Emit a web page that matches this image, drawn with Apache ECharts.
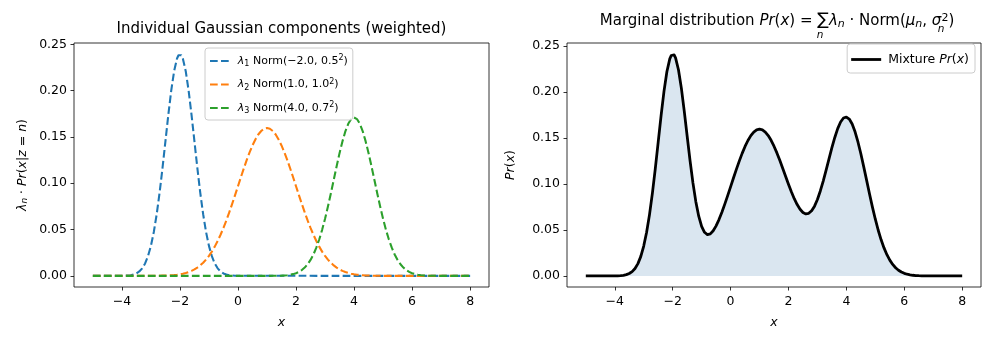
<!DOCTYPE html>
<html><head><meta charset="utf-8">
<script src="https://cdn.jsdelivr.net/npm/echarts@6/dist/echarts.min.js"></script>
<style>html,body{margin:0;padding:0;background:#fff}#c{width:989px;height:340px}</style>
</head><body><div id="c"></div>
<script>
// component 1: lambda1 * Norm(-2.0, 0.5^2)
const xs1 = [-5,-4,-3.9,-3.8,-3.7,-3.6,-3.5,-3.4,-3.3,-3.2,-3.1,-3,-2.9,-2.8,-2.7,-2.6,-2.5,-2.4,-2.3,-2.2,-2.1,-2.05,-2,-1.95,-1.9,-1.8,-1.7,-1.6,-1.5,-1.4,-1.3,-1.2,-1.1,-1,-0.9,-0.8,-0.7,-0.6,-0.5,-0.4,-0.3,-0.2,-0.1,0,8];
const comp1 = [0,0.00008,0.00017,0.00037,0.00074,0.00143,0.00266,0.00475,0.00815,0.0134,0.0213,0.0324,0.0474,0.0666,0.0899,0.1165,0.1452,0.1738,0.2000,0.2210,0.2347,0.2382,0.2394,0.2382,0.2347,0.2210,0.2000,0.1738,0.1452,0.1165,0.0899,0.0666,0.0474,0.0324,0.0213,0.0134,0.00815,0.00475,0.00266,0.00143,0.00074,0.00037,0.00017,0.00008,0];
// component 2: lambda2 * Norm(1.0, 1.0^2)
const xs2 = [-5,-3,-2.9,-2.8,-2.7,-2.6,-2.5,-2.4,-2.3,-2.2,-2.1,-2,-1.9,-1.8,-1.7,-1.6,-1.5,-1.4,-1.3,-1.2,-1.1,-1,-0.9,-0.8,-0.7,-0.6,-0.5,-0.4,-0.3,-0.2,-0.1,0,0.1,0.2,0.3,0.4,0.5,0.6,0.7,0.8,0.9,1,1.1,1.2,1.3,1.4,1.5,1.6,1.7,1.8,1.9,2,2.1,2.2,2.3,2.4,2.5,2.6,2.7,2.8,2.9,3,3.1,3.2,3.3,3.4,3.5,3.6,3.7,3.8,3.9,4,4.1,4.2,4.3,4.4,4.5,4.6,4.7,4.8,4.9,5,8];
const comp2 = [0,0.00005,0.00008,0.00012,0.00017,0.00024,0.00035,0.00049,0.00069,0.00095,0.00131,0.00177,0.00238,0.00316,0.00417,0.00543,0.00701,0.00896,0.0113,0.0142,0.0176,0.0216,0.0262,0.0316,0.0376,0.0444,0.0518,0.0599,0.0686,0.0777,0.0872,0.0968,0.1065,0.1159,0.1249,0.1333,0.1408,0.1473,0.1526,0.1564,0.1588,0.1596,0.1588,0.1564,0.1526,0.1473,0.1408,0.1333,0.1249,0.1159,0.1065,0.0968,0.0872,0.0777,0.0686,0.0599,0.0518,0.0444,0.0376,0.0316,0.0262,0.0216,0.0176,0.0142,0.0113,0.00896,0.00701,0.00543,0.00417,0.00316,0.00238,0.00177,0.00131,0.00095,0.00069,0.00049,0.00035,0.00024,0.00017,0.00012,0.00008,0.00005,0];
// component 3: lambda3 * Norm(4.0, 0.7^2)
const xs3 = [-5,1,1.1,1.2,1.3,1.4,1.5,1.6,1.7,1.8,1.9,2,2.1,2.2,2.3,2.4,2.5,2.6,2.7,2.8,2.9,3,3.1,3.2,3.3,3.4,3.5,3.6,3.7,3.8,3.9,4,4.1,4.2,4.3,4.4,4.5,4.6,4.7,4.8,4.9,5,5.1,5.2,5.3,5.4,5.5,5.6,5.7,5.8,5.9,6,6.1,6.2,6.3,6.4,6.5,6.6,6.7,6.8,6.9,7,8];
const comp3 = [0,0.00002,0.00003,0.00006,0.00010,0.00017,0.00029,0.00048,0.00077,0.00122,0.00190,0.00289,0.00430,0.00627,0.00896,0.01255,0.0172,0.0231,0.0305,0.0393,0.0497,0.0616,0.0748,0.0890,0.1037,0.1184,0.1325,0.1452,0.1560,0.1642,0.1693,0.1710,0.1693,0.1642,0.1560,0.1452,0.1325,0.1184,0.1037,0.0890,0.0748,0.0616,0.0497,0.0393,0.0305,0.0231,0.0172,0.01255,0.00896,0.00627,0.00430,0.00289,0.00190,0.00122,0.00077,0.00048,0.00029,0.00017,0.00010,0.00006,0.00003,0.00002,0];
// mixture Pr(x)
const xsMix = [-5,-4,-3.9,-3.8,-3.7,-3.6,-3.5,-3.4,-3.3,-3.2,-3.1,-3,-2.9,-2.8,-2.7,-2.6,-2.5,-2.4,-2.3,-2.2,-2.1,-2.05,-2,-1.95,-1.9,-1.8,-1.7,-1.6,-1.5,-1.4,-1.3,-1.2,-1.1,-1,-0.9,-0.8,-0.7,-0.6,-0.5,-0.4,-0.3,-0.2,-0.1,0,0.1,0.2,0.3,0.4,0.5,0.6,0.7,0.8,0.9,1,1.1,1.2,1.3,1.4,1.5,1.6,1.7,1.8,1.9,2,2.1,2.2,2.3,2.4,2.5,2.6,2.7,2.8,2.9,3,3.1,3.2,3.3,3.4,3.5,3.6,3.7,3.8,3.9,4,4.1,4.2,4.3,4.4,4.5,4.6,4.7,4.8,4.9,5,5.1,5.2,5.3,5.4,5.5,5.6,5.7,5.8,5.9,6,6.1,6.2,6.3,6.4,6.5,6.6,6.7,6.8,6.9,7,8];
const mixture = [0,0.00008,0.00017,0.00037,0.00074,0.00143,0.00266,0.00475,0.00815,0.0134,0.0213,0.0325,0.0475,0.0667,0.0901,0.1167,0.1456,0.1743,0.2007,0.2220,0.2360,0.2397,0.2412,0.2403,0.2371,0.2242,0.2042,0.1792,0.1522,0.1255,0.1012,0.0808,0.0650,0.0540,0.0475,0.0450,0.0458,0.0492,0.0545,0.0613,0.0693,0.0781,0.0874,0.0969,0.1065,0.1159,0.1249,0.1333,0.1408,0.1473,0.1526,0.1564,0.1588,0.1596,0.1588,0.1565,0.1527,0.1475,0.1411,0.1338,0.1257,0.1171,0.1084,0.0997,0.0915,0.0840,0.0776,0.0725,0.0690,0.0675,0.0681,0.0709,0.0759,0.0832,0.0924,0.1032,0.1150,0.1274,0.1395,0.1506,0.1602,0.1674,0.1717,0.1728,0.1706,0.1652,0.1567,0.1457,0.1329,0.1186,0.1039,0.0891,0.0749,0.0617,0.0497,0.0393,0.0305,0.0231,0.0172,0.01255,0.00896,0.00627,0.00430,0.00289,0.00190,0.00122,0.00077,0.00048,0.00029,0.00017,0.00010,0.00006,0.00003,0.00002,0];

const xTicks = [-4,-2,0,2,4,6,8];
const yTicks = [0,0.05,0.1,0.15,0.2,0.25];
const compNames = ['c1','c2','c3'];
const compLabels = ['{i|λ}{s|1} Norm(−2.0, 0.5{p|2})','{i|λ}{s|2} Norm(1.0, 1.0{p|2})','{i|λ}{s|3} Norm(4.0, 0.7{p|2})'];
const compColors = ['#1f77b4','#ff7f0e','#2ca02c'];
const mixLabel = 'Mixture {i|Pr}({i|x})';

const FONT = 'DejaVu Sans';
const pairs = (xv, yv) => xv.map((x,i)=>[x, yv[i]]);
const richBase = (fs) => ({
  i:{fontFamily:FONT,fontStyle:'italic',fontSize:fs,color:'#000'},
  s:{fontFamily:FONT,fontStyle:'normal',fontSize:Math.round(fs*0.7),verticalAlign:'bottom',color:'#000'},
  si:{fontFamily:FONT,fontStyle:'italic',fontSize:Math.round(fs*0.7),verticalAlign:'bottom',color:'#000'},
  p:{fontFamily:FONT,fontSize:Math.round(fs*0.7),verticalAlign:'top',color:'#000'},
  sum:{fontFamily:FONT,fontSize:fs*1.15,color:'#000'}
});

function xAxisCfg(gi){
  return {type:'value',gridIndex:gi,min:-5.65,max:8.65,
    name:'{i|x}',nameLocation:'middle',nameGap:29,
    nameTextStyle:{fontFamily:FONT,fontSize:12.5,color:'#000',rich:richBase(12.5)},
    axisLine:{show:false,onZero:false},splitLine:{show:false},
    axisTick:{show:true,length:3.5,lineStyle:{color:'#000',width:0.8},customValues:xTicks},
    axisLabel:{customValues:xTicks,margin:8,fontFamily:FONT,fontSize:12.5,color:'#000',
      formatter:v=>String(v).replace('-','\u2212')}};
}
function yAxisCfg(gi,max,name,gap){
  return {type:'value',gridIndex:gi,min:-0.012,max:max,
    name:name,nameLocation:'middle',nameGap:gap,nameRotate:90,
    nameTextStyle:{fontFamily:FONT,fontSize:12.5,color:'#000',rich:richBase(12.5)},
    axisLine:{show:false,onZero:false},splitLine:{show:false},
    axisTick:{show:true,length:3.5,lineStyle:{color:'#000',width:0.8},customValues:yTicks},
    axisLabel:{customValues:yTicks,margin:7,fontFamily:FONT,fontSize:12.5,color:'#000',
      formatter:v=>v.toFixed(2)}};
}

const compX = [xs1,xs2,xs3], compY = [comp1,comp2,comp3];
const series = compNames.map((n,k)=>({
  name:n,type:'line',xAxisIndex:0,yAxisIndex:0,data:pairs(compX[k],compY[k]),
  smooth:false,symbol:'none',
  lineStyle:{color:compColors[k],width:2.08,type:[7.7,3.3],join:'round'},itemStyle:{color:compColors[k]}
}));
series.push({name:'mix',type:'line',xAxisIndex:1,yAxisIndex:1,data:pairs(xsMix,mixture),
  smooth:false,symbol:'none',lineStyle:{color:'#000',width:2.78,join:'round'},itemStyle:{color:'#000'},
  areaStyle:{color:'rgb(70,130,180)',opacity:0.2,origin:0}});

const dashIcon = 'path://M0,0H7.7V2H0Z M11,0H18.7V2H11Z';
const chart = echarts.init(document.getElementById('c'),null,{renderer:'canvas'});
chart.setOption({
  animation:false,
  grid:[{left:74,top:43,width:415,height:244,show:true,borderColor:'#000',borderWidth:0.8},
        {left:567,top:43,width:414,height:244,show:true,borderColor:'#000',borderWidth:0.8}],
  xAxis:[xAxisCfg(0),xAxisCfg(1)],
  yAxis:[yAxisCfg(0,0.2514,'{i|λ}{si|n} · {i|Pr}({i|x}|{i|z} = {i|n})',45),
         yAxisCfg(1,0.2533,'{i|Pr}({i|x})',50)],
  legend:[{data:compNames.map(n=>({name:n,icon:dashIcon})),orient:'vertical',left:205,top:48,padding:[6,5,5,5],
    itemWidth:19,itemHeight:2,itemGap:9.5,
    backgroundColor:'rgba(255,255,255,0.8)',borderColor:'#cccccc',borderWidth:1,borderRadius:3,
    textStyle:{fontFamily:FONT,fontSize:11,lineHeight:14,color:'#000',padding:[0,0,0,4],rich:richBase(11)},
    formatter:n=>compLabels[compNames.indexOf(n)]},
   {data:[{name:'mix',icon:'rect'}],orient:'vertical',right:14,top:44,padding:[8,6,6,4],
    itemWidth:30,itemHeight:2.8,
    backgroundColor:'rgba(255,255,255,0.8)',borderColor:'#cccccc',borderWidth:1,borderRadius:3,
    textStyle:{fontFamily:FONT,fontSize:12.5,lineHeight:15,color:'#000',padding:[0,0,0,2],rich:richBase(12.5)},
    formatter:()=>mixLabel}],
  graphic:[
    {type:'text',x:281.5,y:29,style:{text:'Individual Gaussian components (weighted)',
      fontFamily:FONT,fontSize:15,fill:'#000',align:'center',verticalAlign:'middle'}},
    {type:'text',x:777,y:21,style:{
      text:'Marginal distribution {i|Pr}({i|x}) = {sum|∑}{i|λ}{si|n} · Norm({i|μ}{si|n}, {i|σ}{p|2})',
      fontFamily:FONT,fontSize:15,fill:'#000',align:'center',verticalAlign:'middle',rich:richBase(15)}},
    {type:'text',x:820,y:35,style:{text:'n',fontFamily:FONT,fontStyle:'italic',fontSize:10.5,fill:'#000',align:'center',verticalAlign:'middle'}},
    {type:'text',x:941,y:29,style:{text:'n',fontFamily:FONT,fontStyle:'italic',fontSize:10.5,fill:'#000',align:'center',verticalAlign:'middle'}}
  ],
  series:series
});
</script></body></html>
